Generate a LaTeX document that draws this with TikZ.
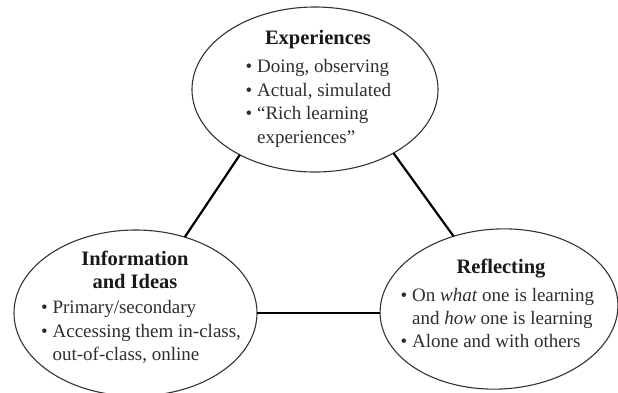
\documentclass[tikz,border=0pt]{standalone}
\usepackage{fontspec}
\setmainfont{Liberation Serif}
\usetikzlibrary{shapes.geometric}
\begin{document}
\begin{tikzpicture}[x=1pt,y=-1pt,
  bubble/.style={ellipse, draw=black!80, line width=1.1pt, inner sep=0pt, outer sep=0pt},
  link/.style={line width=2.2pt, black},
  ttl/.style={anchor=base, font=\fontsize{20.5}{24}\selectfont\bfseries, text=black!90, inner sep=0pt},
  txt/.style={anchor=base west, font=\fontsize{19}{24}\selectfont, text=black!82, inner sep=0pt}]
\useasboundingbox (0,0) rectangle (618,392);
\clip (0,0) rectangle (618,392);
\node[bubble, minimum width=246pt, minimum height=165pt] (T) at (315,89.5) {};
\node[bubble, minimum width=243pt, minimum height=166pt] (L) at (135.5,313) {};
\node[bubble, minimum width=238pt, minimum height=160pt, rotate=3] (R) at (499,309) {};
\draw[link] (T.221.9) -- (L.57.3);
\draw[link] (T.321.2) -- (R.119.8);
\draw[link] (L.east) -- (L.east -| R.west);
% top
\node[ttl] (t0) at (318,44) {Experiences};
\node[txt] (t1) at (245.5,72) {\textbullet\ Doing, observing};
\node[txt] (t2) at (245.5,96) {\textbullet\ Actual, simulated};
\node[txt] (t3) at (245.5,119) {\textbullet\ “Rich learning};
\node[txt] (t4) at (245.5,143) {\phantom{\textbullet\ }experiences”};
% left
\node[ttl] (l0) at (135,265) {Information};
\node[ttl] (l1) at (135,288) {and Ideas};
\node[txt] (l2) at (41,313) {\textbullet\ Primary/secondary};
\node[txt] (l3) at (41,337) {\textbullet\ Accessing them in-class,};
\node[txt] (l4) at (41,360) {\phantom{\textbullet\ }out-of-class, online};
% right
\node[ttl] (r0) at (501,273) {Reflecting};
\node[txt] (r1) at (400.5,301) {\textbullet\ On \textit{what} one is learning};
\node[txt] (r2) at (400.5,324) {\phantom{\textbullet\ }and \textit{how} one is learning};
\node[txt] (r3) at (400.5,347) {\textbullet\ Alone and with others};
\end{tikzpicture}
\end{document}
